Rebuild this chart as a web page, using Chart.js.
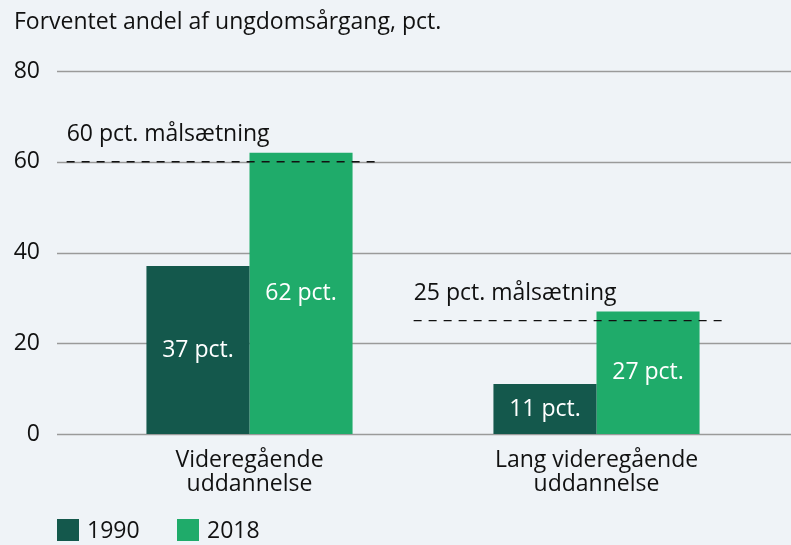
<!DOCTYPE html>
<html>
<head>
<meta charset="utf-8">
<script src="https://cdn.jsdelivr.net/npm/chart.js@4/dist/chart.umd.min.js"></script>
<style>
  html, body { margin: 0; padding: 0; background: #eff3f7; }
  #wrap { width: 791px; height: 545px; position: relative; }
</style>
</head>
<body>
<div id="wrap"><canvas id="chart"></canvas></div>
<script>
const categories = [['Videregående', 'uddannelse'], ['Lang videregående', 'uddannelse']];
const seriesNames = ['1990', '2018'];
const values1990 = [37, 11];
const values2018 = [62, 27];
const targets = [60, 25];
const targetLabels = ['60 pct. målsætning', '25 pct. målsætning'];
const yTicks = [0, 20, 40, 60, 80];
const titleText = 'Forventet andel af ungdomsårgang, pct.';

const FONT = '"Open Sans", sans-serif';
const SIZE = 23;
const DARK = '#14584c';
const LIGHT = '#1fab6a';

// gridlines across the full width, target lines, labels and legend
const extras = {
  id: 'extras',
  beforeDatasetsDraw(chart) {
    const ctx = chart.ctx;
    const y = chart.scales.y;
    ctx.save();
    ctx.strokeStyle = '#9a9a9a';
    ctx.lineWidth = 1.5;
    yTicks.forEach(v => {
      const py = Math.round(y.getPixelForValue(v)) + 0.5;
      ctx.beginPath();
      ctx.moveTo(57, py);
      ctx.lineTo(chart.width, py);
      ctx.stroke();
    });
    ctx.restore();
  },
  afterDatasetsDraw(chart) {
    const ctx = chart.ctx;
    const x = chart.scales.x;
    const y = chart.scales.y;
    const catW = x.getPixelForValue(1) - x.getPixelForValue(0);
    ctx.save();

    // value labels inside bars
    ctx.fillStyle = '#ffffff';
    ctx.font = SIZE + 'px ' + FONT;
    ctx.textAlign = 'center';
    ctx.textBaseline = 'middle';
    chart.data.datasets.forEach((ds, i) => {
      chart.getDatasetMeta(i).data.forEach((bar, j) => {
        ctx.fillText(ds.data[j] + ' pct.', bar.x, (bar.y + bar.base) / 2);
      });
    });

    // target lines
    targets.forEach((t, i) => {
      const cx = x.getPixelForValue(i);
      const x0 = cx - catW * 0.527;
      const x1 = cx + catW * 0.377;
      const py = y.getPixelForValue(t);
      ctx.strokeStyle = '#111111';
      ctx.lineWidth = 1.3;
      ctx.setLineDash([8, 7]);
      ctx.beginPath();
      ctx.moveTo(x0, py);
      ctx.lineTo(x1, py);
      ctx.stroke();
      ctx.setLineDash([]);
      ctx.fillStyle = '#111111';
      ctx.textAlign = 'left';
      ctx.textBaseline = 'middle';
      ctx.fillText(targetLabels[i], x0, py - 27);
    });

    // title
    ctx.fillStyle = '#111111';
    ctx.textAlign = 'left';
    ctx.textBaseline = 'middle';
    ctx.font = SIZE + 'px ' + FONT;
    ctx.fillText(titleText, 14, 22);

    // legend
    let lx = 57;
    chart.data.datasets.forEach(ds => {
      ctx.fillStyle = ds.backgroundColor;
      ctx.fillRect(lx, 519, 22, 22);
      ctx.fillStyle = '#111111';
      ctx.fillText(ds.label, lx + 30, 531);
      lx += 120;
    });
    ctx.restore();
  }
};

new Chart(document.getElementById('chart'), {
  type: 'bar',
  data: {
    labels: categories,
    datasets: [
      { label: seriesNames[0], data: values1990, backgroundColor: DARK },
      { label: seriesNames[1], data: values2018, backgroundColor: LIGHT }
    ]
  },
  options: {
    responsive: true,
    maintainAspectRatio: false,
    animation: false,
    layout: { padding: { top: 71, left: 0, right: 21, bottom: 0 } },
    plugins: {
      legend: { display: false },
      title: { display: false },
      tooltip: { enabled: false }
    },
    datasets: {
      bar: { categoryPercentage: 0.594, barPercentage: 1.0, borderWidth: 0 }
    },
    scales: {
      x: {
        grid: { display: false, drawTicks: false },
        border: { display: false },
        ticks: { color: '#111111', font: { family: FONT, size: SIZE, lineHeight: 1.05 }, padding: 14 },
        afterFit(s) { s.height = 111; }
      },
      y: {
        min: 0,
        max: 80,
        afterBuildTicks(s) { s.ticks = yTicks.map(v => ({ value: v })); },
        grid: { display: false, drawTicks: false },
        border: { display: false },
        ticks: { color: '#111111', font: { family: FONT, size: SIZE }, padding: 36 },
        afterFit(s) { s.width = 76; }
      }
    }
  },
  plugins: [extras]
});
</script>
</body>
</html>
